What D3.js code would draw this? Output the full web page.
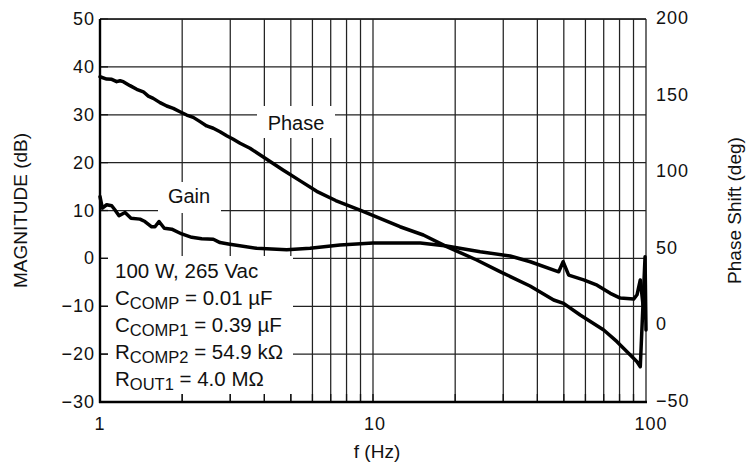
<!DOCTYPE html>
<html>
<head>
<meta charset="utf-8">
<script src="https://cdn.jsdelivr.net/npm/d3@7"></script>
<style>
  body { margin: 0; background: #fff; }
  svg text { font-family: "Liberation Sans", Arial, Helvetica, sans-serif; fill: #111; }
</style>
</head>
<body>
<div id="chart"></div>
<script>
// gain curve (dB)
const gainFreq = [1.00, 1.02, 1.058, 1.104, 1.135, 1.174, 1.235, 1.299, 1.401, 1.461, 1.546, 1.590, 1.645, 1.720, 1.831, 1.993, 2.168, 2.358, 2.600, 2.752, 2.951, 3.75, 4.83, 5.88, 7.57, 10.0, 14.9, 18.6, 24.7, 31.8, 37.7, 47.9, 49.7, 52.1, 59.1, 66.2, 74.0, 80.5, 90.1, 92.7, 95.3, 97.5];
const gainDb = [12.9, 10.5, 11.2, 11.0, 10.1, 8.9, 9.6, 8.4, 8.2, 7.7, 6.6, 6.6, 7.7, 6.3, 6.1, 5.1, 4.4, 4.1, 4.0, 3.3, 3.0, 2.1, 1.8, 2.1, 2.8, 3.2, 3.2, 2.6, 1.4, 0.5, -0.7, -2.8, -0.7, -3.5, -4.5, -5.6, -7.3, -8.3, -8.5, -7.6, -4.5, -9.7];

// phase curve (deg)
const phaseFreq = [1.00, 1.058, 1.104, 1.151, 1.184, 1.217, 1.288, 1.363, 1.441, 1.503, 1.567, 1.659, 1.756, 1.856, 1.963, 2.078, 2.196, 2.325, 2.459, 2.600, 2.752, 2.911, 3.078, 3.258, 3.544, 4.681, 5.45, 6.22, 7.3, 8.96, 12.56, 15.29, 18.62, 23.99, 29.19, 37.6, 45.9, 49.9, 57.4, 70.0, 78.3, 87.6, 92.7, 95.3, 99.2, 100];
const phaseDeg = [162.3, 160.8, 160.6, 159.1, 159.7, 159.1, 156.5, 154.1, 152.5, 149.7, 148.2, 145.4, 143.2, 141.7, 139.5, 137.3, 135.8, 133.0, 130.2, 128.7, 126.4, 123.8, 121.5, 118.9, 115.6, 101.4, 94.0, 87.5, 81.5, 75.3, 64.4, 59.0, 51.4, 42.7, 35.1, 25.7, 16.6, 14.4, 6.8, -3.0, -10.6, -19.3, -23.7, -27.0, 44.8, -3.0];

const gridFreqs = [2, 3, 4, 5, 6, 7, 8, 9, 10, 20, 30, 40, 50, 60, 70, 80, 90];
const xTickLabels = [1, 10, 100];
const dbTicks = [50, 40, 30, 20, 10, 0, -10, -20, -30];
const degTicks = [200, 150, 100, 50, 0, -50];
const notes = [
    ['100 W, 265 Vac', '', ''],
    ['C', 'COMP', ' = 0.01 \u00b5F'],
    ['C', 'COMP1', ' = 0.39 \u00b5F'],
    ['R', 'COMP2', ' = 54.9 k\u03a9'],
    ['R', 'OUT1', ' = 4.0 M\u03a9']
];

const W = 747, H = 468;
const pLeft = 100, pRight = 646, pTop = 19, pBottom = 402;

const svg = d3.select('#chart').append('svg')
    .attr('width', W)
    .attr('height', H);

const x = d3.scaleLog().domain([1, 100]).range([pLeft, pRight]);
const y = d3.scaleLinear().domain([-30, 50]).range([pBottom, pTop]);
const y2 = d3.scaleLinear().domain([-50, 200]).range([pBottom, pTop]);

const fmt = d => d < 0 ? '\u2212' + Math.abs(d) : String(d);

// grid
const grid = svg.append('g').attr('stroke', '#222').attr('stroke-width', 1.25);
grid.selectAll('line.v')
    .data(gridFreqs)
    .join('line')
    .attr('class', 'v')
    .attr('x1', d => x(d)).attr('x2', d => x(d))
    .attr('y1', pTop).attr('y2', pBottom);
grid.selectAll('line.h')
    .data(dbTicks)
    .join('line')
    .attr('class', 'h')
    .attr('x1', pLeft).attr('x2', pRight)
    .attr('y1', d => y(d)).attr('y2', d => y(d));

// white boxes behind labels
svg.append('rect').attr('x', 108).attr('y', 256).attr('width', 185).attr('height', 138).attr('fill', '#fff');
svg.append('rect').attr('x', 158).attr('y', 182).attr('width', 63).attr('height', 31).attr('fill', '#fff');
svg.append('rect').attr('x', 257).attr('y', 106).attr('width', 78).attr('height', 32).attr('fill', '#fff');

// inner ticks
const ticks = svg.append('g').attr('stroke', '#111').attr('stroke-width', 1.3);
ticks.selectAll('line.l')
    .data(dbTicks)
    .join('line')
    .attr('class', 'l')
    .attr('x1', pLeft).attr('x2', pLeft + 8)
    .attr('y1', d => y(d)).attr('y2', d => y(d));
ticks.selectAll('line.b')
    .data(gridFreqs)
    .join('line')
    .attr('class', 'b')
    .attr('x1', d => x(d)).attr('x2', d => x(d))
    .attr('y1', pBottom - 8).attr('y2', pBottom);

// frame
svg.append('line').attr('x1', pLeft).attr('x2', pRight).attr('y1', pTop).attr('y2', pTop)
    .attr('stroke', '#222').attr('stroke-width', 1.3);
svg.append('line').attr('x1', pRight).attr('x2', pRight).attr('y1', pTop).attr('y2', pBottom)
    .attr('stroke', '#222').attr('stroke-width', 1.3);
svg.append('line').attr('x1', pLeft).attr('x2', pLeft).attr('y1', pTop).attr('y2', pBottom + 1)
    .attr('stroke', '#000').attr('stroke-width', 2.4);
svg.append('line').attr('x1', pLeft - 1).attr('x2', pRight + 1).attr('y1', pBottom).attr('y2', pBottom)
    .attr('stroke', '#000').attr('stroke-width', 2.4);

// curves
const gainLine = d3.line()
    .x((d, i) => x(gainFreq[i]))
    .y(d => y(d));
const phaseLine = d3.line()
    .x((d, i) => x(phaseFreq[i]))
    .y(d => y2(d));

svg.append('path').datum(gainDb)
    .attr('d', gainLine)
    .attr('fill', 'none').attr('stroke', '#000').attr('stroke-width', 3.5)
    .attr('stroke-linejoin', 'round').attr('stroke-linecap', 'round');
svg.append('path').datum(phaseDeg)
    .attr('d', phaseLine)
    .attr('fill', 'none').attr('stroke', '#000').attr('stroke-width', 3.5)
    .attr('stroke-linejoin', 'round').attr('stroke-linecap', 'round');

// tick labels
svg.append('g').selectAll('text')
    .data(dbTicks)
    .join('text')
    .attr('x', 95)
    .attr('y', d => y(d) + 6)
    .attr('text-anchor', 'end')
    .style('font-size', '18px')
    .style('letter-spacing', '1px')
    .text(fmt);

svg.append('g').selectAll('text')
    .data(degTicks)
    .join('text')
    .attr('x', 656)
    .attr('y', d => y2(d) + 5)
    .style('font-size', '18px')
    .style('letter-spacing', '1px')
    .text(fmt);

svg.append('g').selectAll('text')
    .data(xTickLabels)
    .join('text')
    .attr('x', d => x(d) + (d === 100 ? 5 : d === 10 ? 2 : 0))
    .attr('y', 430)
    .attr('text-anchor', 'middle')
    .style('font-size', '18px')
    .style('letter-spacing', '1px')
    .text(d => d);

// axis titles
svg.append('text')
    .attr('transform', 'translate(27,' + ((pTop + pBottom) / 2) + ') rotate(-90)')
    .attr('text-anchor', 'middle')
    .style('font-size', '19px')
    .text('MAGNITUDE (dB)');
svg.append('text')
    .attr('transform', 'translate(741,' + ((pTop + pBottom) / 2) + ') rotate(-90)')
    .attr('text-anchor', 'middle')
    .style('font-size', '19px')
    .text('Phase Shift (deg)');
svg.append('text')
    .attr('x', 377)
    .attr('y', 458)
    .attr('text-anchor', 'middle')
    .style('font-size', '19px')
    .text('f (Hz)');

// curve labels
svg.append('text').attr('x', 189).attr('y', 203).attr('text-anchor', 'middle')
    .style('font-size', '20px').text('Gain');
svg.append('text').attr('x', 296).attr('y', 130).attr('text-anchor', 'middle')
    .style('font-size', '20px').text('Phase');

// conditions block
const noteText = svg.append('g').selectAll('text')
    .data(notes)
    .join('text')
    .attr('x', 115)
    .attr('y', (d, i) => 277.5 + i * 27.2)
    .style('font-size', '20.5px');
noteText.append('tspan').text(d => d[0]);
noteText.append('tspan')
    .attr('dy', 4)
    .style('font-size', '16.5px')
    .text(d => d[1]);
noteText.append('tspan')
    .attr('dy', d => d[1] ? -4 : 0)
    .text(d => d[2]);
</script>
</body>
</html>
